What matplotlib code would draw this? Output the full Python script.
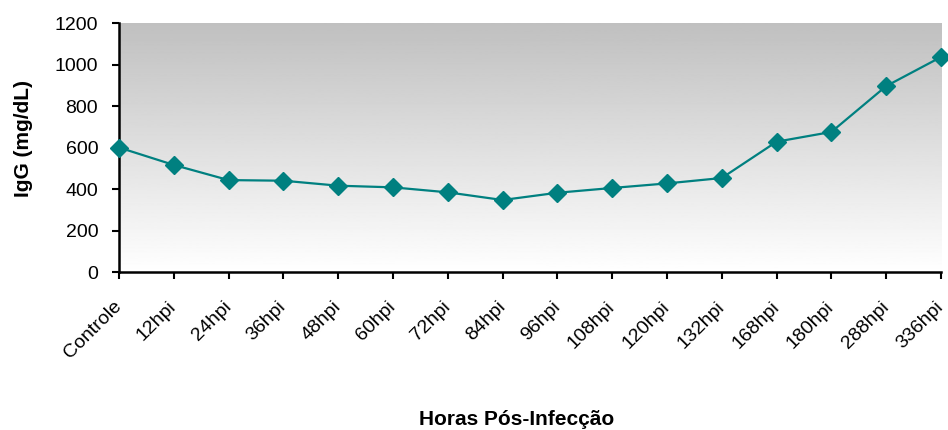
import numpy as np
import matplotlib
matplotlib.use("Agg")
import matplotlib.pyplot as plt

# IgG over time after infection
categories = ["Controle", "12hpi", "24hpi", "36hpi", "48hpi", "60hpi", "72hpi",
              "84hpi", "96hpi", "108hpi", "120hpi", "132hpi", "168hpi",
              "180hpi", "288hpi", "336hpi"]
igg = [600, 516, 443, 440, 416, 408, 384, 347, 382, 405, 427, 453, 628,
       675, 896, 1036]

plt.rcParams['font.family'] = ['Liberation Sans', 'DejaVu Sans']

fig = plt.figure(figsize=(9.48, 4.30), dpi=100)
ax = fig.add_axes([0.1255, 0.3674, 0.8671, 0.5791])

x = np.arange(len(categories))
n = len(categories) - 1

# grey (top) to white (bottom) background
grad = np.linspace(1.0, 0.75, 256).reshape(-1, 1)
ax.imshow(grad, cmap='gray', vmin=0, vmax=1, aspect='auto',
          extent=(0, n, 0, 1200), origin='lower', zorder=0)
ax.set_xlim(0, n)
ax.set_ylim(0, 1200)

ax.plot(x, igg, color='#008080', lw=1.6, marker='D', markersize=9.5,
        markeredgecolor='#008080', clip_on=False, zorder=3)

ax.set_yticks(range(0, 1201, 200))
ax.set_xticks(x)
ax.set_xticklabels(categories, rotation=45, ha='right', va='center',
                   rotation_mode='anchor')
ax.tick_params(axis='both', labelsize=14, direction='out', length=5,
               width=1.5, color='black')
ax.tick_params(axis='x', pad=18)
ax.tick_params(axis='y', pad=10)

for s in ['top', 'right']:
    ax.spines[s].set_visible(False)
for s in ['left', 'bottom']:
    ax.spines[s].set_linewidth(1.8)

fig.text(0.0253, 0.678, "IgG (mg/dL)", fontsize=15, fontweight='bold',
         rotation=90, ha='center', va='center')
fig.text(0.545, 0.0233, "Horas Pós-Infecção", fontsize=15, fontweight='bold',
         ha='center', va='center')

fig.savefig("out.png", dpi=100)
